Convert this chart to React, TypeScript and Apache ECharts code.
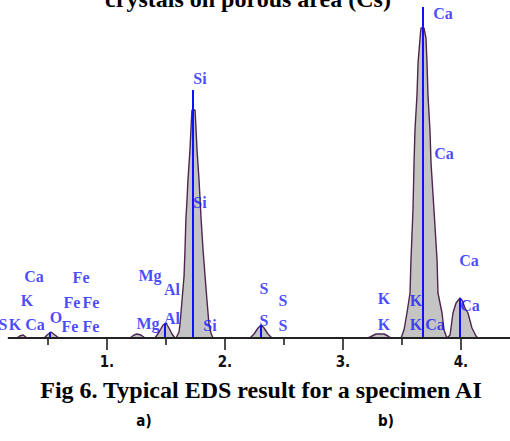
import React, { useEffect, useRef } from "react";
import * as echarts from "echarts";

// Spectrum (energy keV, counts in arbitrary units)
const spectrumEnergy = [
  0.16, 0.237, 0.26, 0.29, 0.322, 0.466, 0.492, 0.525, 0.559, 0.593,
  1.195, 1.229, 1.254, 1.288, 1.322,
  1.407, 1.441, 1.475, 1.5, 1.525, 1.551, 1.576,
  1.585, 1.61, 1.619, 1.636, 1.653, 1.661, 1.669, 1.678, 1.686, 1.703, 1.712, 1.72,
  1.746, 1.754, 1.763, 1.78, 1.789, 1.797, 1.814, 1.831, 1.847, 1.864, 1.881, 1.898,
  2.212, 2.246, 2.28, 2.305, 2.331, 2.364, 2.398,
  3.212, 3.246, 3.28, 3.347, 3.381, 3.407,
  3.492, 3.517, 3.542, 3.568, 3.576, 3.593, 3.602, 3.61, 3.627, 3.636, 3.653, 3.661,
  3.686, 3.703, 3.712, 3.72, 3.737, 3.746, 3.771, 3.797, 3.805, 3.839, 3.856, 3.881,
  3.907, 3.932, 3.958, 3.992, 4.008, 4.034, 4.059, 4.093, 4.127, 4.144, 4.5,
];
const spectrumCounts = [
  0, 0, 2, 3, 0, 0, 3, 6, 3, 0,
  0, 3, 4, 3, 0,
  0, 6, 13, 15, 10, 4, 0,
  0, 6, 14, 38, 62, 88, 120, 138, 158, 188, 210, 228,
  228, 210, 188, 158, 138, 120, 88, 62, 38, 14, 5, 0,
  0, 4, 10, 13, 10, 4, 0,
  0, 2, 4, 4, 2, 0,
  0, 8, 25, 45, 78, 128, 175, 208, 243, 275, 300, 310,
  310, 300, 275, 243, 208, 175, 128, 78, 45, 25, 8, 0,
  3, 25, 35, 40, 38, 30, 25, 10, 2, 0, 0,
];

// Element marker lines
const lineEnergy = [0.517, 1.49, 1.729, 2.305, 3.678, 3.99];
const lineTop = [6, 15, 248, 13, 331, 40];

// Element labels
const labelText = [
  "Ca", "K", "S", "K", "Ca", "O", "Fe", "Fe", "Fe", "Fe", "Fe",
  "Mg", "Al", "Mg", "Al", "Si", "Si", "Si",
  "S", "S", "S", "S", "K", "K", "K", "K", "Ca", "Ca", "Ca", "Ca", "Ca",
];
const labelEnergy = [
  0.381, 0.322, 0.119, 0.22, 0.39, 0.568, 0.78, 0.703, 0.864, 0.686, 0.864,
  1.364, 1.551, 1.347, 1.551, 1.788, 1.788, 1.873,
  2.331, 2.492, 2.331, 2.492, 3.347, 3.347, 3.619, 3.619, 3.78, 4.068, 4.076, 3.847, 3.856,
];
const labelHeight = [
  62, 38, 14, 14, 14, 21, 61, 36, 36, 12, 12,
  63, 49, 15, 20, 260, 136, 13,
  50, 38, 18, 13, 40, 14, 38, 14, 14, 78, 33, 325, 185,
];

const tickValues = [1, 2, 3, 4];

const titleTop = "crystals on porous area (Cs)";
const caption = "Fig 6. Typical EDS result for a specimen AI";
const subA = "a)";
const subB = "b)";

export default function App() {
  const ref = useRef<HTMLDivElement>(null);
  useEffect(() => {
    if (!ref.current) return;
    const chart = echarts.init(ref.current, null, { renderer: "svg" });
    const spectrum = spectrumEnergy.map((e, i) => [e, spectrumCounts[i]]);
    const labels = labelText.map((t, i) => [labelEnergy[i], labelHeight[i], t]);
    const blueLines = lineEnergy.map((e, i) => [
      { coord: [e, 0] },
      { coord: [e, lineTop[i]] },
    ]);
    chart.setOption({
      animation: false,
      backgroundColor: "#ffffff",
      grid: { left: -11, right: -10, top: 3, bottom: 103, outerBoundsMode: "none", containLabel: false },
      xAxis: {
        type: "value",
        min: 0,
        max: 4.5,
        interval: 1,
        axisLine: { show: false },
        axisTick: { show: true, length: 12, lineStyle: { color: "#111", width: 1.5 } },
        minorTick: { show: true, splitNumber: 2, length: 7, lineStyle: { color: "#111", width: 1.5 } },
        splitLine: { show: false },
        minorSplitLine: { show: false },
        axisLabel: {
          margin: 16,
          color: "#111",
          fontSize: 15,
          fontWeight: "bold",
          fontFamily: "'Liberation Sans Narrow', 'DejaVu Sans Condensed', sans-serif",
          formatter: (v: number) => (tickValues.includes(v) ? `${v}.` : ""),
        },
      },
      yAxis: { type: "value", min: 0, max: 335, show: false },
      series: [
        {
          type: "line",
          data: spectrum,
          symbol: "none",
          lineStyle: { color: "#4e2450", width: 1.4 },
          areaStyle: { color: "#c4c4c4", opacity: 1 },
          z: 2,
        },
        {
          type: "scatter",
          data: labels,
          symbolSize: 0,
          z: 5,
          label: {
            show: true,
            position: "inside",
            formatter: (p: any) => p.value[2],
            color: "#1a1aff",
            fontSize: 16,
            fontWeight: "bold",
            fontFamily: "'Liberation Serif', 'DejaVu Serif', serif",
          },
          markLine: {
            silent: true,
            symbol: ["none", "none"],
            label: { show: false },
            lineStyle: { color: "#1010ff", width: 2, type: "solid" },
            data: [
              ...blueLines,
              [
                { coord: [0.16, 0], lineStyle: { color: "#222", width: 2 } },
                { coord: [4.5, 0] },
              ],
            ],
          },
        },
      ],
      graphic: [
        {
          type: "text",
          x: 248,
          y: -1,
          style: {
            text: titleTop,
            fill: "#000",
            font: "bold 24px 'Liberation Serif', 'Times New Roman', serif",
            textAlign: "center",
            textVerticalAlign: "middle",
          },
        },
        {
          type: "text",
          x: 261,
          y: 390,
          style: {
            text: caption,
            fill: "#000",
            font: "bold 24px 'Liberation Serif', 'Times New Roman', serif",
            textAlign: "center",
            textVerticalAlign: "middle",
          },
        },
        {
          type: "text",
          x: 144,
          y: 421,
          style: {
            text: subA,
            fill: "#000",
            font: "bold 15px 'Liberation Sans Narrow', 'DejaVu Sans Condensed', sans-serif",
            textAlign: "center",
            textVerticalAlign: "middle",
          },
        },
        {
          type: "text",
          x: 386,
          y: 421,
          style: {
            text: subB,
            fill: "#000",
            font: "bold 15px 'Liberation Sans Narrow', 'DejaVu Sans Condensed', sans-serif",
            textAlign: "center",
            textVerticalAlign: "middle",
          },
        },
      ],
    });
    return () => chart.dispose();
  }, []);
  return (
    <div
      ref={ref}
      style={{ position: "absolute", left: 0, top: 0, width: 510, height: 441 }}
    />
  );
}
